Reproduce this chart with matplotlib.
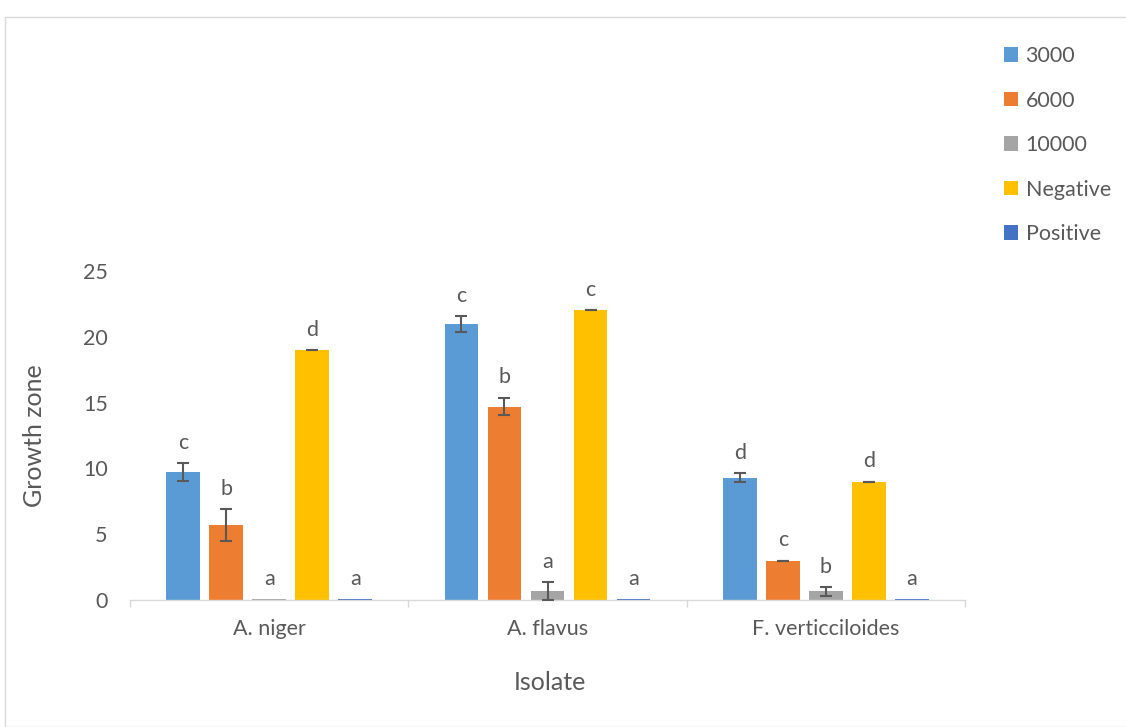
import matplotlib
matplotlib.use("Agg")
import matplotlib.pyplot as plt
import numpy as np
from matplotlib.patches import Rectangle, Patch

# ---- data -------------------------------------------------------------
isolates = ["A. niger", "A. flavus", "F. verticciloides"]
series = ["3000", "6000", "10000", "Negative", "Positive"]
colors = ["#5B9BD5", "#ED7D31", "#A5A5A5", "#FFC000", "#4472C4"]

growth_3000 = [9.7, 21.0, 9.3]
growth_6000 = [5.7, 14.7, 3.0]
growth_10000 = [0.05, 0.7, 0.66]
growth_negative = [19.0, 22.0, 9.0]
growth_positive = [0.05, 0.05, 0.05]

# standard error (nan = no error bar drawn)
err_3000 = [0.68, 0.6, 0.34]
err_6000 = [1.2, 0.68, 0.0]
err_10000 = [np.nan, 0.68, 0.34]
err_negative = [0.0, 0.0, 0.0]
err_positive = [np.nan, np.nan, np.nan]

# significance letters
letters_3000 = ["c", "c", "d"]
letters_6000 = ["b", "b", "c"]
letters_10000 = ["a", "a", "b"]
letters_negative = ["d", "c", "d"]
letters_positive = ["a", "a", "a"]

values = [growth_3000, growth_6000, growth_10000, growth_negative, growth_positive]
errors = [err_3000, err_6000, err_10000, err_negative, err_positive]
letters = [letters_3000, letters_6000, letters_10000, letters_negative, letters_positive]

# ---- style ------------------------------------------------------------
plt.rcParams["font.family"] = ["Lato", "DejaVu Sans"]
text_color = "#595959"
axis_color = "#D9D9D9"
tick_fs = 15.5
title_fs = 18

W, H = 1126, 727
fig = plt.figure(figsize=(W / 100, H / 100), dpi=100)

# chart-area border (only top and left edges fall inside the canvas)
fig.patches.append(Rectangle((5 / W, 0), 1.2, 1 - 17 / H, transform=fig.transFigure,
                             fill=False, edgecolor=axis_color, linewidth=1.0))

left, right = 130 / W, 965 / W
bottom, top = 1 - 600 / H, 1 - 271 / H
ax = fig.add_axes([left, bottom, right - left, top - bottom])

x = np.arange(len(isolates))
pitch = 0.1547
width = 0.121
offsets = (np.arange(len(series)) - (len(series) - 1) / 2) * pitch

for i, (name, vals, errs, lets, col) in enumerate(zip(series, values, errors, letters, colors)):
    xs = x + offsets[i]
    ax.bar(xs, vals, width=width, color=col, label=name, zorder=2)
    errs = np.asarray(errs, dtype=float)
    vals_arr = np.asarray(vals, dtype=float)
    mask = ~np.isnan(errs)
    if mask.any():
        ax.errorbar(xs[mask], vals_arr[mask], yerr=errs[mask], fmt="none",
                    ecolor="#595959", elinewidth=1.5, capsize=4.3, capthick=1.5, zorder=3)
    tops = vals_arr + np.nan_to_num(errs)
    for xi, ti, lt in zip(xs, tops, lets):
        ax.annotate(lt, (xi, ti), xytext=(0, 14.5), textcoords="offset points",
                    ha="center", va="center", fontsize=tick_fs, color=text_color)

ax.set_xlim(-0.5, 2.5)
ax.set_ylim(0, 25)
ax.set_yticks(np.arange(0, 26, 5))
ax.set_xticks(x)
ax.set_xticklabels(isolates)
ax.set_xticks([-0.5, 0.5, 1.5, 2.5], minor=True)

for s in ["top", "right", "left"]:
    ax.spines[s].set_visible(False)
ax.spines["bottom"].set_color(axis_color)
ax.spines["bottom"].set_linewidth(1.0)

ax.tick_params(axis="y", length=0, pad=16, labelsize=tick_fs, labelcolor=text_color)
ax.tick_params(axis="x", which="major", length=0, pad=14, labelsize=tick_fs, labelcolor=text_color)
ax.tick_params(axis="x", which="minor", length=5, width=1.0, color=axis_color)

fig.text(35 / W, 1 - 436 / H, "Growth zone", rotation=90, ha="center", va="center",
         fontsize=title_fs, color=text_color)
fig.text(550 / W, 1 - 683 / H, "Isolate", ha="center", va="center",
         fontsize=title_fs, color=text_color)

handles = [Patch(facecolor=c, edgecolor="none") for c in colors]
fig.legend(handles, series, loc="upper left", bbox_to_anchor=(1004 / W, 1 - 46 / H),
           frameon=False, fontsize=tick_fs, labelcolor=text_color,
           handlelength=0.65, handleheight=0.65, handletextpad=0.35,
           labelspacing=1.14, borderpad=0, borderaxespad=0)

fig.savefig("out.png", dpi=100)
